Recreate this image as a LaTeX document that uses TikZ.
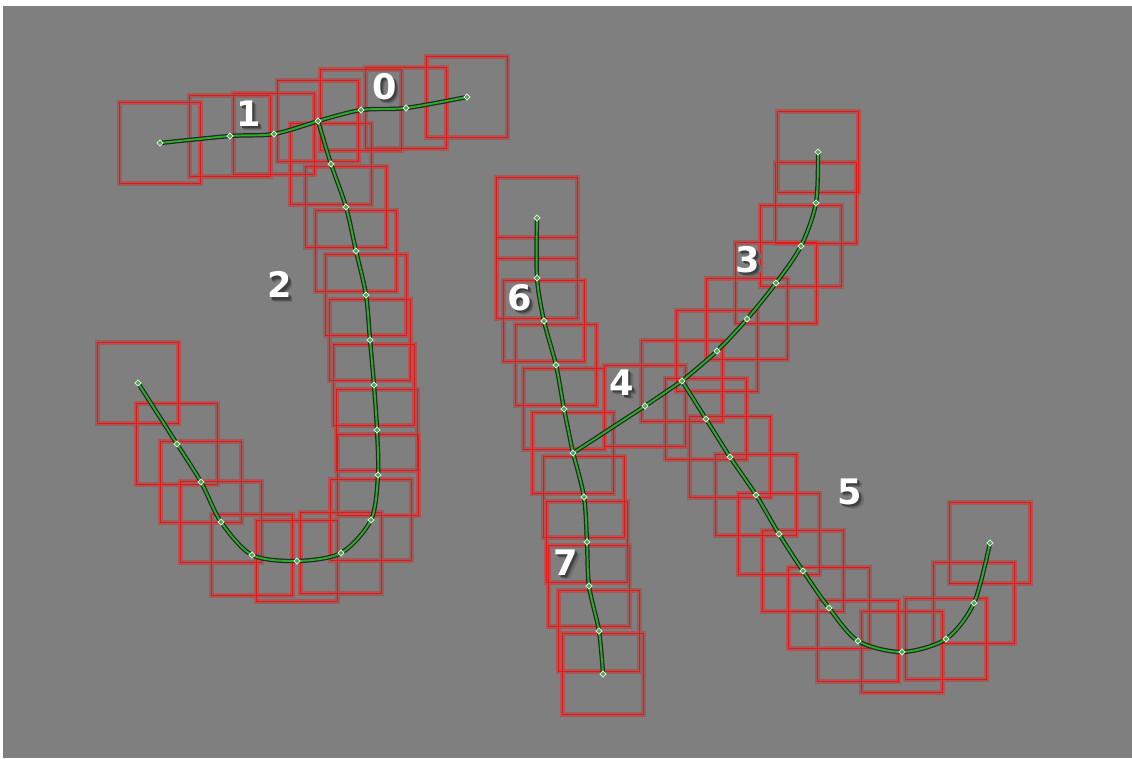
\documentclass[tikz,border=0pt]{standalone}
\usepackage{fontspec}
\newfontfamily\lblfont{DejaVu Sans}
\definecolor{bggray}{RGB}{127,127,127}
\definecolor{boxred}{RGB}{235,20,20}
\definecolor{linegreen}{RGB}{40,175,40}
\definecolor{vtxgreen}{RGB}{70,170,70}
\definecolor{vtxedge}{RGB}{215,230,215}
\definecolor{shadeA}{RGB}{110,110,110}
\definecolor{shadeB}{RGB}{88,88,88}
\definecolor{shadeC}{RGB}{64,64,64}
\newcommand\shadednum[1]{%
  \makebox[0pt][l]{\hspace{2.4pt}\raisebox{-2.4pt}{\textcolor{shadeA}{#1}}}%
  \makebox[0pt][l]{\hspace{1.8pt}\raisebox{-1.8pt}{\textcolor{shadeB}{#1}}}%
  \makebox[0pt][l]{\hspace{1.2pt}\raisebox{-1.2pt}{\textcolor{shadeC}{#1}}}%
  #1}
\begin{document}
\begin{tikzpicture}[x=0.02cm,y=-0.02cm,
  box/.style={draw=boxred,line width=1pt,
    preaction={draw=boxred,draw opacity=0.35,line width=2.3pt}},
  skel/.style={draw=linegreen,line width=1.1pt,line join=round,
    preaction={draw=black!85,line width=2.5pt,line join=round}},
  vtx/.style={fill=vtxgreen,draw=vtxedge,line width=0.5pt},
  lbl/.style={text=white,font=\lblfont\bfseries\fontsize{20}{20}\selectfont,inner sep=0pt}]
  \useasboundingbox (0,0) rectangle (1132,758);
  \fill[bggray] (3,6) rectangle (1132,758);
  % vertices
  \foreach \n/\x/\y in {a1/160/143,a2/230/136,a3/274/134,j/318/121,
      b1/361/110,b2/406/108,b3/467/97,
      c1/331/164,c2/346/207,c3/356/251,c4/366/295,c5/370/340,c6/374/385,
      c7/377/430,c8/378/475,c9/371/520,c10/341/553,c11/297/561,c12/252/555,
      c13/221/522,c14/201/482,c15/177/444,c16/138/383,
      d1/818/152,d2/816/203,d3/801/246,d4/776/283,d5/747/319,d6/717/351,
      k/682/381,e1/645/406,m/573/453,
      f1/706/419,f2/730/457,f3/756/495,f4/779/534,f5/803/571,f6/829/608,
      f7/858/641,f8/902/652,f9/946/639,f10/974/603,f11/990/543,
      g1/537/218,g2/537/278,g3/544/321,g4/556/365,g5/564/409,
      h1/584/497,h2/587/542,h3/589/586,h4/599/631,h5/603/674}
    \coordinate (\n) at (\x,\y);
  \draw[box] \foreach \n in {a1,a2,a3,j,b1,b2,b3,c1,c2,c3,c4,c5,c6,c7,c8,
      c9,c10,c11,c12,c13,c14,c15,c16,d1,d2,d3,d4,d5,d6,k,e1,m,f1,f2,f3,f4,
      f5,f6,f7,f8,f9,f10,f11,g1,g2,g3,g4,g5,h1,h2,h3,h4,h5}
    {(\n) ++(-40.5,-40.5) rectangle ++(81,81)};
  \draw[skel] plot[smooth,tension=0.5] coordinates {(a1) (a2) (a3) (j)};
  \draw[skel] plot[smooth,tension=0.5] coordinates {(j) (b1) (b2) (b3)};
  \draw[skel] plot[smooth,tension=0.5] coordinates {(j) (c1) (c2) (c3) (c4)
    (c5) (c6) (c7) (c8) (c9) (c10) (c11) (c12) (c13) (c14) (c15) (c16)};
  \draw[skel] plot[smooth,tension=0.5] coordinates {(d1) (d2) (d3) (d4) (d5)
    (d6) (k)};
  \draw[skel] (k) -- (e1) -- (m);
  \draw[skel] plot[smooth,tension=0.5] coordinates {(k) (f1) (f2) (f3) (f4)
    (f5) (f6) (f7) (f8) (f9) (f10) (f11)};
  \draw[skel] plot[smooth,tension=0.5] coordinates {(g1) (g2) (g3) (g4) (g5)
    (m)};
  \draw[skel] plot[smooth,tension=0.5] coordinates {(m) (h1) (h2) (h3) (h4)
    (h5)};
  \draw[vtx] \foreach \n in {a1,a2,a3,j,b1,b2,b3,c1,c2,c3,c4,c5,c6,c7,c8,
      c9,c10,c11,c12,c13,c14,c15,c16,d1,d2,d3,d4,d5,d6,k,e1,m,f1,f2,f3,f4,
      f5,f6,f7,f8,f9,f10,f11,g1,g2,g3,g4,g5,h1,h2,h3,h4,h5}
    {(\n) +(-3,0) -- +(0,-3) -- +(3,0) -- +(0,3) -- cycle};
  % stroke numbers
  \foreach \t/\x/\y in {0/385/89,1/249/116,2/280/287,3/748/262,
      4/622/385,5/850/494,6/520/300,7/566/565}
    \node[lbl] (n\t) at (\x,\y) {\shadednum{\t}};
\end{tikzpicture}
\end{document}
